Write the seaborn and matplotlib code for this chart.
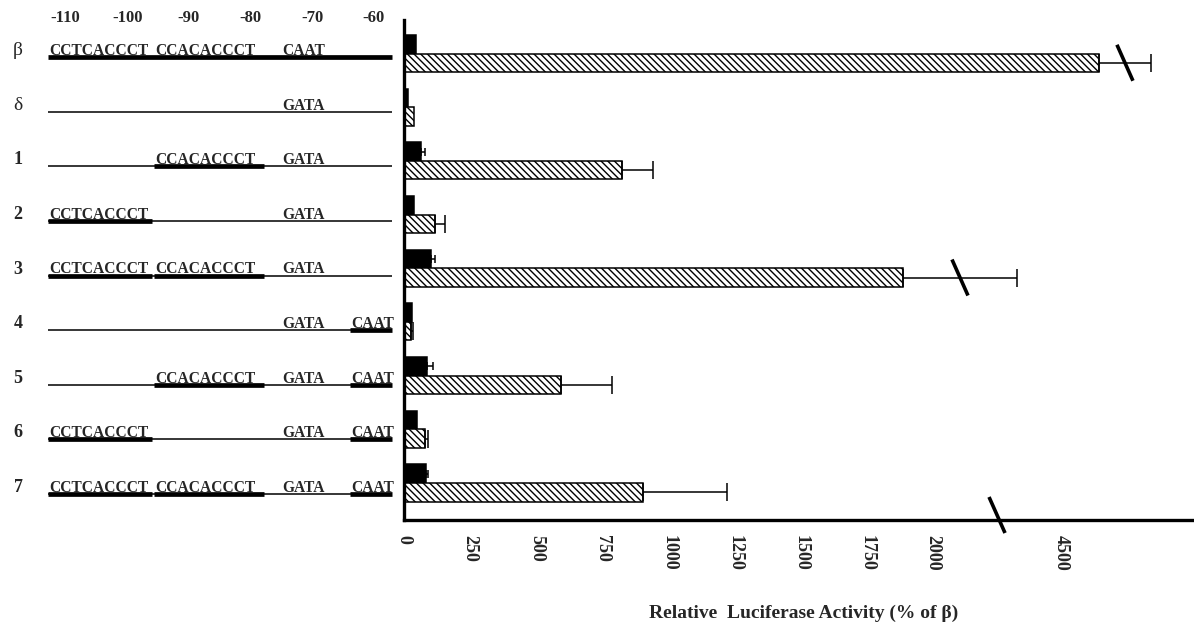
import numpy as np
import pandas as pd
import matplotlib
matplotlib.use("Agg")
import matplotlib.pyplot as plt
import seaborn as sns
from matplotlib.lines import Line2D
from matplotlib.transforms import ScaledTranslation

# ---------------- data ----------------
constructs = ["β", "δ", "1", "2", "3", "4", "5", "6", "7"]
basal = [45, 15, 64, 38, 102, 30, 87, 49, 83]                 # solid bars
basal_err = [np.nan, np.nan, 15, np.nan, 15, np.nan, 23, np.nan, 8]
induced = [4644, 38, 824, 117, 1886, 26, 593, 79, 903]        # hatched bars
induced_err = [196, np.nan, 117, 38, 2448, 8, 193, 12, 318]
induced_break = [1, 0, 0, 0, 1, 0, 0, 0, 0]                   # broken error bars
x_ticks = [0, 250, 500, 750, 1000, 1250, 1500, 1750, 2000, 4500]
x_tick_labels = ["0", "250", "500", "750", "1000", "1250", "1500", "1750", "2000", "4500"]
xlabel = "Relative  Luciferase Activity (% of β)"

# promoter schematic (positions relative to transcription start)
nt_ticks = [-110, -100, -90, -80, -70, -60]
nt_tick_labels = ["-110", "-100", "-90", "-80", "-70", "-60"]
row_thick = [1, 0, 0, 0, 0, 0, 0, 0, 0]
row_cct = [1, 0, 0, 1, 1, 0, 0, 1, 1]
row_cca = [1, 0, 1, 0, 1, 0, 1, 0, 1]
row_mid = ["CAAT", "GATA", "GATA", "GATA", "GATA", "GATA", "GATA", "GATA", "GATA"]
row_caat = [0, 0, 0, 0, 0, 1, 1, 1, 1]
span = (-112.8, -57.0)
cct_span = (-112.8, -96.0)
cca_span = (-95.6, -77.8)
mid_start = -74.8
caat_span = (-63.8, -57.0)

# ---------------- style ----------------
sns.set_theme(style="white")
plt.rcParams["font.family"] = ["Liberation Serif", "DejaVu Serif"]
plt.rcParams["hatch.linewidth"] = 1.0
plt.rcParams["hatch.color"] = "black"

W, H = 1194, 626
fig = plt.figure(figsize=(W / 100, H / 100), dpi=100)

# ---------------- bar chart ----------------
ax = fig.add_axes([404 / W, (H - 520) / H, (W - 404) / W, 500 / H])
df = pd.DataFrame({
    "construct": constructs * 2,
    "value": basal + induced,
    "series": ["basal"] * len(constructs) + ["induced"] * len(constructs),
})
sns.barplot(data=df, y="construct", x="value", hue="series", orient="h",
            palette={"basal": "black", "induced": "white"}, edgecolor="black",
            linewidth=1.1, width=0.69, errorbar=None, legend=False, ax=ax,
            saturation=1)
for p in ax.containers[1]:
    p.set_hatch("\\" * 5)

B1, B2, G = 2200.0, 4300.0, 83.0
shift = B2 - (B1 + G)


def fwd(v):
    v = np.asarray(v, dtype=float)
    return np.where(v <= B1, v, np.where(v >= B2, v - shift, B1 + (v - B1) * G / (B2 - B1)))


def inv(u):
    u = np.asarray(u, dtype=float)
    return np.where(u <= B1, u, np.where(u >= B1 + G, u + shift, B1 + (u - B1) * (B2 - B1) / G))


ax.set_xscale("function", functions=(fwd, inv))
ax.set_xlim(0, 5003)
ax.set_ylim(8.689, -0.624)
ax.set_xticks(x_ticks)
ax.set_xticklabels(x_tick_labels, rotation=-90, fontsize=13, fontweight="bold")
offset = ScaledTranslation(5 / 100, 0, fig.dpi_scale_trans)
for lab in ax.get_xticklabels():
    lab.set_transform(lab.get_transform() + offset)
ax.tick_params(axis="x", length=0, pad=11)
ax.set_yticks([])
ax.set_xlabel("")
ax.set_ylabel("")
for s in ["top", "right"]:
    ax.spines[s].set_visible(False)
for s in ["left", "bottom"]:
    ax.spines[s].set_linewidth(2.4)
    ax.spines[s].set_color("black")

# error bars (one-sided, to the right)
for cont, vals, errs, cap in [(ax.containers[0], basal, basal_err, 3),
                              (ax.containers[1], induced, induced_err, 6.5)]:
    for p, v, e in zip(cont, vals, errs):
        if np.isnan(e):
            continue
        yc = p.get_y() + p.get_height() / 2
        ax.errorbar([v], [yc], xerr=[[0], [e]], fmt="none", ecolor="black",
                    elinewidth=1.1, capsize=cap, capthick=1.1, zorder=1)

to_fig = fig.transFigure.inverted()


def slash(xd, yd, dx=8, dy=18):
    (x0, y0) = to_fig.transform((xd - dx, yd + dy))
    (x1, y1) = to_fig.transform((xd + dx, yd - dy))
    fig.add_artist(Line2D([x0, x1], [y0, y1], color="black", lw=2.6,
                          solid_capstyle="butt"))


# breaks on long error bars
for p, v, e, b in zip(ax.containers[1], induced, induced_err, induced_break):
    if not b:
        continue
    yc = p.get_y() + p.get_height() / 2
    xa, ya = ax.transData.transform((v, yc))
    xb, _ = ax.transData.transform((v + e, yc))
    slash(xa + 0.5 * (xb - xa), ya)

# break on the x axis
xa, _ = ax.transData.transform((x_ticks[-2], 0))
xb, _ = ax.transData.transform((x_ticks[-1], 0))
_, ybase = ax.transAxes.transform((0, 0))
slash(0.5 * (xa + xb), ybase + 5)

fig.text(804 / W, 1 - 613 / H, xlabel, ha="center", va="center",
         fontsize=14, fontweight="bold")

# ---------------- promoter schematic ----------------
sx = fig.add_axes([0, 0, 400 / W, 1])
sx.set_xlim(-120.63, -55.75)
sx.set_ylim(10.476, -0.989)
sx.axis("off")

for t, lab in zip(nt_ticks, nt_tick_labels):
    sx.text(t, -0.659, lab, ha="center", va="center", fontsize=12, fontweight="bold")

mfs = 11.2
for r, name in enumerate(constructs):
    yl = r + 0.06
    is_greek = name in ("β", "δ")
    sx.text(-117.7, r - 0.06, name, ha="center", va="center",
            fontsize=14 if is_greek else 13,
            fontweight="normal" if is_greek else "bold")
    sx.plot(span, [yl, yl], color="black", lw=3.4 if row_thick[r] else 1.1,
            solid_capstyle="butt")
    tb = yl - 0.04
    if row_cct[r]:
        if not row_thick[r]:
            sx.plot(cct_span, [yl, yl], color="black", lw=3.4, solid_capstyle="butt")
        sx.text(cct_span[0] + 0.2, tb, "CCTCACCCT", ha="left", va="baseline",
                fontsize=mfs, fontweight="bold")
    if row_cca[r]:
        if not row_thick[r]:
            sx.plot(cca_span, [yl, yl], color="black", lw=3.4, solid_capstyle="butt")
        sx.text(cca_span[0] + 0.2, tb, "CCACACCCT", ha="left", va="baseline",
                fontsize=mfs, fontweight="bold")
    sx.text(mid_start, tb, row_mid[r], ha="left", va="baseline",
            fontsize=mfs, fontweight="bold")
    if row_caat[r]:
        sx.plot(caat_span, [yl, yl], color="black", lw=3.4, solid_capstyle="butt")
        sx.text(caat_span[0] + 0.2, tb, "CAAT", ha="left", va="baseline",
                fontsize=mfs, fontweight="bold")

fig.savefig("out.png", dpi=100)
